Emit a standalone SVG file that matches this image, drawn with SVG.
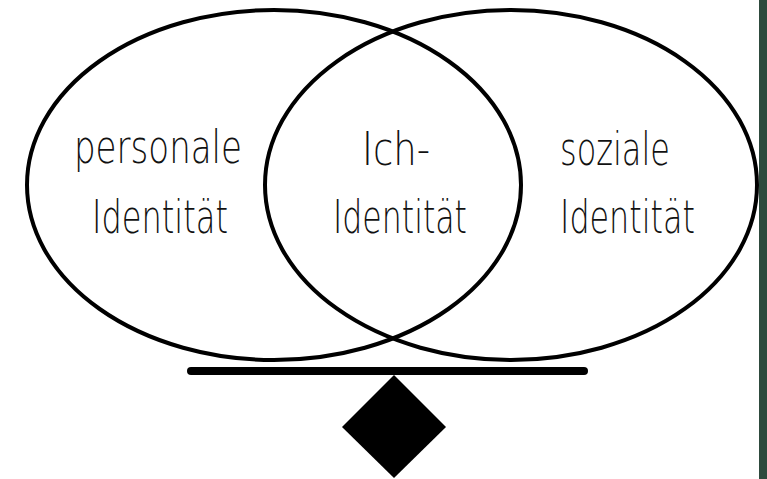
<svg xmlns="http://www.w3.org/2000/svg" width="767" height="479" viewBox="0 0 767 479">
<style>
.ell{fill:none;stroke:#000;stroke-width:4}
.lbl{font-family:"DejaVu Sans","Liberation Sans",sans-serif;font-weight:200;font-size:47px;fill:#111}
</style>
<rect x="0" y="0" width="767" height="479" fill="#fff"/>
<rect x="759" y="0" width="8" height="479" fill="#2e4a3d"/>
<g id="personale">
<ellipse class="ell" cx="274" cy="185" rx="247" ry="175"/>
<text class="lbl" x="158" y="163" text-anchor="middle" textLength="168" lengthAdjust="spacingAndGlyphs">personale</text>
<text class="lbl" x="160" y="233" text-anchor="middle" textLength="136" lengthAdjust="spacingAndGlyphs">Identität</text>
</g>
<g id="soziale">
<ellipse class="ell" cx="511" cy="185" rx="246" ry="175"/>
<text class="lbl" x="560" y="165" textLength="110" lengthAdjust="spacingAndGlyphs">soziale</text>
<text class="lbl" x="560" y="233" textLength="135" lengthAdjust="spacingAndGlyphs">Identität</text>
</g>
<g id="ich">
<text class="lbl" x="396" y="165" text-anchor="middle" textLength="68" lengthAdjust="spacingAndGlyphs">Ich-</text>
<text class="lbl" x="400" y="233" text-anchor="middle" textLength="134" lengthAdjust="spacingAndGlyphs">Identität</text>
</g>
<g id="connectors">
<line x1="191" y1="371" x2="584" y2="371" stroke="#000" stroke-width="8" stroke-linecap="round"/>
<polygon points="394,375 446,427 394,478 342,427" fill="#000"/>
</g>
</svg>
